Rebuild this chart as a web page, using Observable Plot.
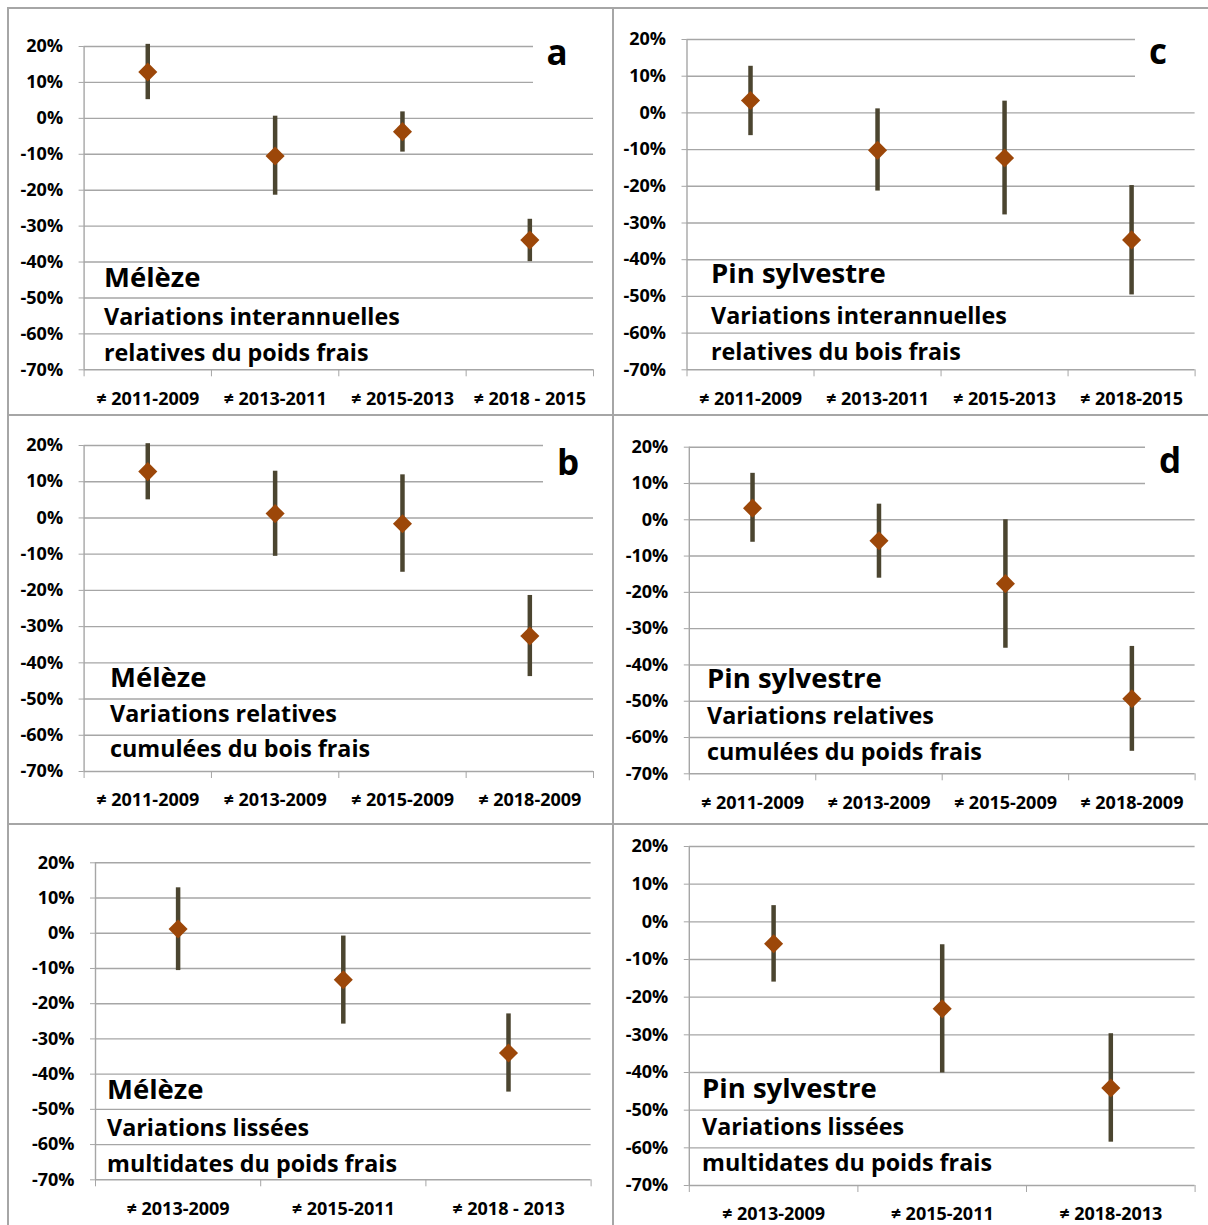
<!DOCTYPE html>
<html>
<head>
<meta charset="utf-8">
<script src="https://cdn.jsdelivr.net/npm/d3@7"></script>
<script src="https://cdn.jsdelivr.net/npm/@observablehq/plot@0.6"></script>
<style>
  body { margin: 0; background: #fff; }
  #page { position: relative; width: 1208px; height: 1225px; overflow: hidden; background: #fff; font-family: "Open Sans", sans-serif; }
  .cell { position: absolute; }
  .sep { position: absolute; background: #a6a6a6; }
  #overlay { position: absolute; left: 0; top: 0; pointer-events: none; }
</style>
</head>
<body>
<div id="page"></div>
<script>
// ---------- data ----------
const yTicks = [20, 10, 0, -10, -20, -30, -40, -50, -60, -70];

// a : Mélèze, variations interannuelles
const catsA = ["≠ 2011-2009", "≠ 2013-2011", "≠ 2015-2013", "≠ 2018 - 2015"];
const valA  = [12.9, -10.5, -3.7, -33.9];
const lowA  = [5.2, -21.4, -9.4, -39.9];
const highA = [20.6, 0.6, 1.8, -28.1];

// c : Pin sylvestre, variations interannuelles
const catsC = ["≠ 2011-2009", "≠ 2013-2011", "≠ 2015-2013", "≠ 2018-2015"];
const valC  = [3.4, -10.2, -12.3, -34.6];
const lowC  = [-6.2, -21.3, -27.8, -49.6];
const highC = [12.7, 1.1, 3.2, -19.8];

// b : Mélèze, variations cumulées
const catsB = ["≠ 2011-2009", "≠ 2013-2009", "≠ 2015-2009", "≠ 2018-2009"];
const valB  = [12.8, 1.2, -1.6, -32.6];
const lowB  = [5.0, -10.6, -15.0, -43.8];
const highB = [20.5, 12.9, 11.9, -21.4];

// d : Pin sylvestre, variations cumulées
const catsD = ["≠ 2011-2009", "≠ 2013-2009", "≠ 2015-2009", "≠ 2018-2009"];
const valD  = [3.2, -5.8, -17.6, -49.3];
const lowD  = [-6.2, -16.1, -35.4, -63.8];
const highD = [12.8, 4.3, 0.0, -34.9];

// e : Mélèze, variations lissées
const catsE = ["≠ 2013-2009", "≠ 2015-2011", "≠ 2018 - 2013"];
const valE  = [1.2, -13.2, -34.0];
const lowE  = [-10.6, -25.8, -45.1];
const highE = [12.9, -0.8, -22.9];

// f : Pin sylvestre, variations lissées
const catsF = ["≠ 2013-2009", "≠ 2015-2011", "≠ 2018-2013"];
const valF  = [-5.8, -23.1, -44.1];
const lowF  = [-16.0, -40.1, -58.5];
const highF = [4.3, -6.1, -29.7];

// ---------- layout ----------
const panels = [
  {cats: catsA, val: valA, low: lowA, high: highA, cell: [8, 8, 612, 415], area: [83.6, 46, 593, 369.3],
   letter: "a", letterBox: [533, 30, 600, 100], letterPos: [557, 65],
   title: ["Mélèze", "Variations interannuelles", "relatives du poids frais"], tx: 104, tb: [287, 325, 361]},
  {cats: catsC, val: valC, low: lowC, high: highC, cell: [612, 8, 1208, 415], area: [686.5, 39, 1194.6, 369.3],
   letter: "c", letterBox: [1135, 22, 1200, 100], letterPos: [1158, 64],
   title: ["Pin sylvestre", "Variations interannuelles", "relatives du bois frais"], tx: 711, tb: [283, 324, 360]},
  {cats: catsB, val: valB, low: lowB, high: highB, cell: [8, 415, 612, 824], area: [83.6, 445, 593, 771],
   letter: "b", letterBox: [543, 432, 600, 505], letterPos: [568, 475],
   title: ["Mélèze", "Variations relatives", "cumulées du bois frais"], tx: 110, tb: [687, 722, 757]},
  {cats: catsD, val: valD, low: lowD, high: highD, cell: [612, 415, 1208, 824], area: [688.8, 446.7, 1194.6, 773.3],
   letter: "d", letterBox: [1145, 432, 1200, 508], letterPos: [1170, 473],
   title: ["Pin sylvestre", "Variations relatives", "cumulées du poids frais"], tx: 707, tb: [688, 724, 760]},
  {cats: catsE, val: valE, low: lowE, high: highE, cell: [8, 824, 612, 1225], area: [95, 862.3, 590.6, 1179.3],
   letter: null,
   title: ["Mélèze", "Variations lissées", "multidates du poids frais"], tx: 107, tb: [1099, 1136, 1172]},
  {cats: catsF, val: valF, low: lowF, high: highF, cell: [612, 824, 1208, 1225], area: [688.8, 846, 1194.6, 1185],
   letter: null,
   title: ["Pin sylvestre", "Variations lissées", "multidates du poids frais"], tx: 702, tb: [1098, 1135, 1171]}
];

const GRID = "#a6a6a6";
const BAR = "#4b4530";
const MARK = "#9c4709";
const FONT = "'Open Sans', sans-serif";

const page = document.getElementById("page");

for (const p of panels) {
  const [cl, ct, cr, cb] = p.cell;
  const [ax0, ay0, ax1, ay1] = p.area;
  const n = p.cats.length;
  const rows = p.cats.map((c, i) => ({cat: c, xc: i + 0.5, v: p.val[i], lo: p.low[i], hi: p.high[i]}));
  const chart = Plot.plot({
    width: cr - cl,
    height: cb - ct,
    marginLeft: ax0 - cl,
    marginRight: cr - ax1,
    marginTop: ay0 - ct,
    marginBottom: cb - ay1,
    style: {fontFamily: FONT, fontSize: "18px", fontWeight: "bold", color: "#000", background: "transparent", overflow: "visible"},
    x: {domain: [0, n], axis: null, label: null},
    y: {domain: [-70, 20], axis: null, label: null},
    marks: [
      Plot.ruleY(yTicks, {stroke: GRID, strokeWidth: 1.4}),
      Plot.ruleX([0], {stroke: GRID, strokeWidth: 1.4}),
      Plot.axisY(yTicks, {tickSize: 5, tickPadding: 16, stroke: GRID, fill: "#000", label: null, tickFormat: d => d + "%", fontWeight: "bold"}),
      Plot.axisX(d3.range(n + 1), {tickSize: 7, stroke: GRID, label: null, tickFormat: () => ""}),
      Plot.axisX(rows.map(r => r.xc), {tickSize: 0, tickPadding: 22, fill: "#000", label: null, tickFormat: d => p.cats[Math.floor(d)], fontWeight: "bold"}),
      Plot.ruleX(rows, {x: "xc", y1: "lo", y2: "hi", stroke: BAR, strokeWidth: 4.5}),
      Plot.dot(rows, {x: "xc", y: "v", symbol: "diamond2", r: 8.6, fill: MARK, stroke: null})
    ]
  });
  chart.classList.add("cell");
  chart.style.left = cl + "px";
  chart.style.top = ct + "px";
  page.appendChild(chart);
}

// panel separators
const seps = [
  [7, 7, 1201, 2], [7, 7, 2, 1218], [611.5, 7, 2, 1218], [7, 414, 1201, 2], [7, 823, 1201, 2]
];
for (const [x, y, w, h] of seps) {
  const d = document.createElement("div");
  d.className = "sep";
  Object.assign(d.style, {left: x + "px", top: y + "px", width: w + "px", height: h + "px"});
  page.appendChild(d);
}

// annotations
const svg = d3.select(page).append("svg").attr("id", "overlay").attr("width", 1208).attr("height", 1225)
  .style("font-family", FONT).style("font-weight", "bold");
for (const p of panels) {
  if (p.letter) {
    const [bx0, by0, bx1, by1] = p.letterBox;
    svg.append("rect").attr("x", bx0).attr("y", by0).attr("width", bx1 - bx0).attr("height", by1 - by0).attr("fill", "#fff");
    svg.append("text").attr("x", p.letterPos[0]).attr("y", p.letterPos[1]).attr("text-anchor", "middle")
      .attr("font-size", 35).text(p.letter);
  }
  p.title.forEach((t, i) => {
    svg.append("text").attr("x", p.tx).attr("y", p.tb[i]).attr("font-size", i === 0 ? 27.5 : 23.3).text(t);
  });
}
</script>
</body>
</html>
